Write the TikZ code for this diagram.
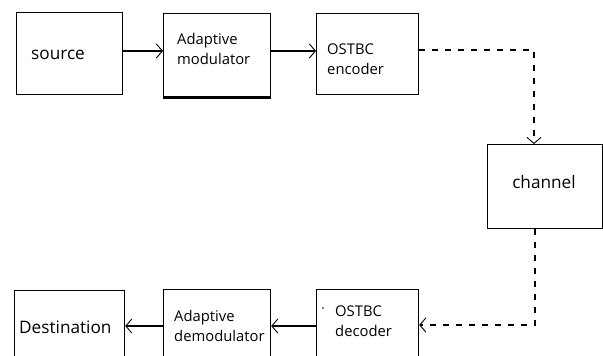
\documentclass[tikz,border=0pt]{standalone}
\usepackage{fontspec}
\setmainfont{Open Sans}
\usetikzlibrary{arrows.meta}
\tikzset{
  blk/.style={draw, line width=1.2pt, inner sep=0pt, anchor=north west},
  small/.style={font=\fontsize{14.8}{20}\selectfont, inner sep=0pt, anchor=west, align=left},
  big/.style={font=\fontsize{17.2}{20}\selectfont, inner sep=0pt},
  flow/.style={line width=1.2pt, -{Straight Barb[length=6pt,width=14pt,line width=0.9pt]}},
  link/.style={flow, dash pattern=on 5.5pt off 7.5pt},
}
\begin{document}
\begin{tikzpicture}[x=1pt,y=-1pt]
  \useasboundingbox (0,0) rectangle (603,356);
  \clip (0,0) rectangle (603,356);
  \fill[white] (0,0) rectangle (603,356);

  % transmitter chain
  \node[blk, minimum width=106pt, minimum height=82pt] (src) at (16,12) {};
  \node[blk, minimum width=107pt, minimum height=83pt] (mod) at (163,13) {};
  \node[blk, minimum width=102pt, minimum height=81pt] (enc) at (316,13) {};
  \node[blk, minimum width=115pt, minimum height=84pt] (chan) at (487,144) {};

  % receiver chain (boxes run past the lower edge)
  \node[blk, minimum width=102pt, minimum height=74pt] (dec) at (316,289) {};
  \node[blk, minimum width=107pt, minimum height=74pt] (dem) at (163,289) {};
  \node[blk, minimum width=110pt, minimum height=72pt] (dst) at (14,290) {};

  % thicker lower edge of the modulator box
  \draw[line width=1.2pt] ([yshift=-0.7pt]mod.south west) -- ([yshift=-0.7pt]mod.south east);

  % labels
  \node[big, anchor=west] (tsrc) at (31,55) {source};
  \node[small] (tmod) at (177,49) {Adaptive\\modulator};
  \node[small] (tenc) at (327,59) {OSTBC\\encoder};
  \node[big] (tchan) at (544,182) {channel};
  \node[small] (tdec) at (335,321) {OSTBC\\decoder};
  \node[small] (tdem) at (174,326) {Adaptive\\demodulator};
  \node[big, anchor=west] (tdst) at (19,327) {Destination};
  \fill (323,308) circle (0.9pt);

  % connectors
  \draw[flow] (src.east |- 0,51) -- (mod.west |- 0,51);
  \draw[flow] (mod.east |- 0,51) -- (enc.west |- 0,51);
  \draw[link] (enc.east |- 0,50) -| (chan.north -| 534,0);
  \draw[link] (chan.south -| 535,0) |- (dec.east |- 0,325);
  \draw[flow] (dec.west |- 0,326) -- (dem.east |- 0,326);
  \draw[flow] (dem.west |- 0,326) -- (dst.east |- 0,326);
\end{tikzpicture}
\end{document}
